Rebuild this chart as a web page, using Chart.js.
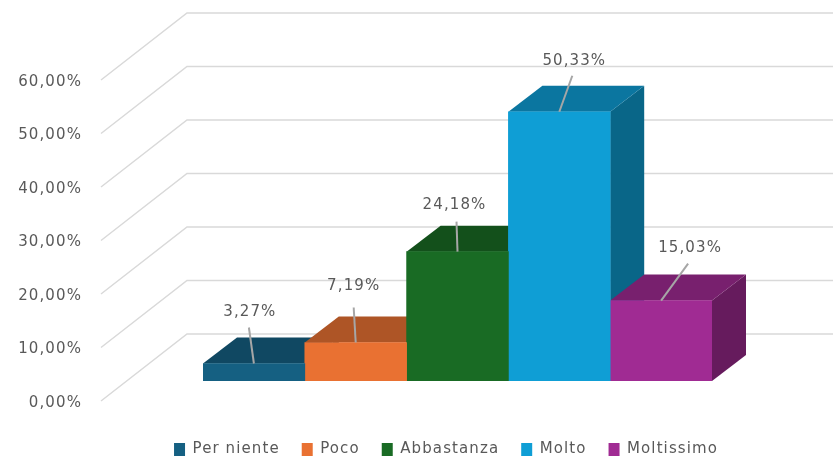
<!DOCTYPE html>
<html>
<head>
  <title>Grafico 3D</title>
  <script src="https://cdn.jsdelivr.net/npm/chart.js@4/dist/chart.umd.js"></script>
  <style>
    html, body { margin: 0; padding: 0; background: #fff; }
    canvas { display: block; filter: blur(0.3px); }
  </style>
</head>
<body>
  <canvas id="chart" width="833" height="456"></canvas>
  <script>
    // data
    const categories = ['Per niente', 'Poco', 'Abbastanza', 'Molto', 'Moltissimo'];
    const percentValues = [3.27, 7.19, 24.18, 50.33, 15.03];
    const yTickValues = [0, 10, 20, 30, 40, 50, 60];

    // colours for each bar: front, top, right side
    const frontColors = ['#156082', '#E97132', '#196B24', '#0F9ED5', '#A02B93'];
    const topColors = ['#104862', '#AE5526', '#13501B', '#0B76A0', '#78206E'];
    const sideColors = ['#0D3F56', '#8F4A20', '#104418', '#096688', '#661B5D'];

    // label and leader placement relative to the top centre of each bar
    const labelShiftX = [-4, -2, -3, 15, 29];
    const labelShiftY = [-51, -56, -47, -51, -52];
    const leaderShiftX = [-5, -2, -1, 13, 27];
    const leaderShiftY = [-36, -35, -30, -36, -37];

    const TEXT = '#595959';
    const GRID = '#D9D9D9';
    const FONT = 'DejaVu Sans';
    const SPACING = '1.1px';
    // 3d offsets
    const BAR_DX = 34, BAR_DY = 26;
    const WALL_FRONT_X = 101, WALL_BACK_X = 187, WALL_FRONT_DY = 20, WALL_BACK_DY = -47;

    const fmt = v => v.toFixed(2).replace('.', ',') + '%';

    function poly(ctx, color, pts) {
      ctx.fillStyle = color;
      ctx.beginPath();
      pts.forEach((p, i) => i ? ctx.lineTo(p[0], p[1]) : ctx.moveTo(p[0], p[1]));
      ctx.closePath();
      ctx.fill();
    }

    const spacingPlugin = {
      id: 'spacing',
      beforeUpdate(chart) { chart.ctx.letterSpacing = SPACING; },
      beforeDraw(chart) { chart.ctx.letterSpacing = SPACING; }
    };

    // move the legend to where the original has it
    const legendPlugin = {
      id: 'legendPlace',
      afterLayout(chart) {
        const lg = chart.legend;
        const shift = 446 - (lg.left + lg.right) / 2;
        lg.left += shift;
        lg.right += shift;
        const h = lg.bottom - lg.top;
        lg.top = 420;
        lg.bottom = 420 + h;
      }
    };

    // walls, bar sides and tops go under the native bars
    const wallsPlugin = {
      id: 'walls',
      beforeDatasetsDraw(chart) {
        const ctx = chart.ctx;
        const y = chart.scales.y;
        ctx.save();
        ctx.strokeStyle = GRID;
        ctx.lineWidth = 1.5;
        yTickValues.forEach(v => {
          const p = y.getPixelForValue(v);
          ctx.beginPath();
          ctx.moveTo(WALL_FRONT_X, p + WALL_FRONT_DY);
          ctx.lineTo(WALL_BACK_X, p + WALL_BACK_DY);
          ctx.lineTo(chart.width, p + WALL_BACK_DY);
          ctx.stroke();
        });
        percentValues.forEach((v, i) => {
          const bar = chart.getDatasetMeta(i).data[0];
          const l = bar.x - bar.width / 2, r = bar.x + bar.width / 2;
          poly(ctx, sideColors[i], [[r, bar.y], [r + BAR_DX, bar.y - BAR_DY], [r + BAR_DX, bar.base - BAR_DY], [r, bar.base]]);
          poly(ctx, topColors[i], [[l, bar.y], [l + BAR_DX, bar.y - BAR_DY], [r + BAR_DX, bar.y - BAR_DY], [r, bar.y]]);
        });
        ctx.restore();
      },
      afterDatasetsDraw(chart) {
        const ctx = chart.ctx;
        ctx.save();
        ctx.font = '15px "' + FONT + '"';
        ctx.fillStyle = TEXT;
        ctx.textAlign = 'center';
        ctx.textBaseline = 'middle';
        percentValues.forEach((v, i) => {
          const bar = chart.getDatasetMeta(i).data[0];
          ctx.strokeStyle = '#A6A6A6';
          ctx.lineWidth = 2;
          ctx.beginPath();
          ctx.moveTo(bar.x + leaderShiftX[i], bar.y + leaderShiftY[i]);
          ctx.lineTo(bar.x, bar.y);
          ctx.stroke();
          ctx.fillText(fmt(v), bar.x + labelShiftX[i], bar.y + labelShiftY[i]);
        });
        ctx.restore();
      }
    };

    new Chart(document.getElementById('chart').getContext('2d'), {
      type: 'bar',
      data: {
        labels: [''],
        datasets: categories.map((name, i) => ({
          label: name,
          data: [percentValues[i]],
          backgroundColor: frontColors[i],
          borderWidth: 0
        }))
      },
      options: {
        responsive: false,
        animation: false,
        layout: { padding: { top: 60, right: 121, bottom: 28, left: 0 } },
        datasets: { bar: { barPercentage: 1, categoryPercentage: 1 } },
        scales: {
          x: { display: false },
          y: {
            min: 0,
            max: 60,
            afterFit(axis) {
              axis.width = 203;
              axis.paddingTop = 0;
              axis.paddingBottom = 0;
            },
            afterBuildTicks(axis) { axis.ticks = yTickValues.map(value => ({ value })); },
            border: { display: false },
            grid: { display: false, drawTicks: false },
            ticks: {
              color: TEXT,
              font: { family: FONT, size: 15 },
              padding: 121,
              labelOffset: WALL_FRONT_DY + 2,
              callback: v => fmt(v)
            }
          }
        },
        plugins: {
          tooltip: { enabled: false },
          legend: {
            position: 'bottom',
            labels: {
              color: TEXT,
              font: { family: FONT, size: 15 },
              boxWidth: 11,
              boxHeight: 13,
              padding: 22
            }
          }
        }
      },
      plugins: [spacingPlugin, legendPlugin, wallsPlugin]
    });
  </script>
</body>
</html>
